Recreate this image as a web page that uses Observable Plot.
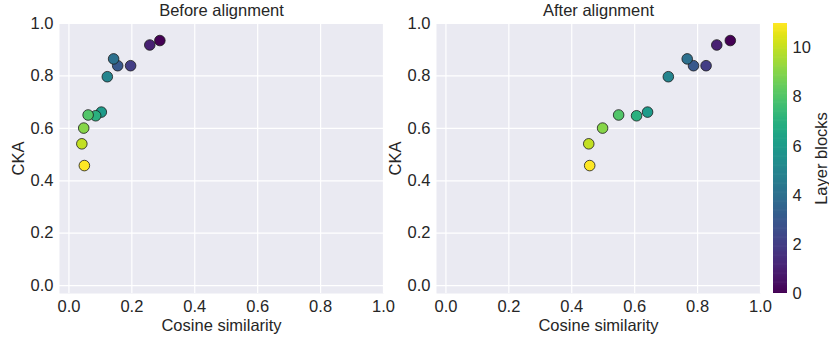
<!DOCTYPE html>
<html><head><meta charset="utf-8">
<script src="https://cdn.jsdelivr.net/npm/d3@7"></script>
<script src="https://cdn.jsdelivr.net/npm/@observablehq/plot@0.6"></script>
<style>
body{margin:0;background:#fff;}
#wrap{position:relative;width:829px;height:341px;overflow:hidden;background:#fff;}
#wrap svg{position:absolute;top:0;overflow:visible;max-width:none;}
</style></head><body><div id="wrap"></div>
<script>
// Data
const layers = [0, 1, 2, 3, 4, 5, 6, 7, 8, 9, 10, 11];
const cosBefore = [0.289, 0.257, 0.196, 0.155, 0.142, 0.122, 0.103, 0.085, 0.061, 0.047, 0.041, 0.049];
const cosAfter  = [0.904, 0.861, 0.827, 0.787, 0.767, 0.707, 0.641, 0.606, 0.549, 0.498, 0.454, 0.457];
const cka       = [0.935, 0.918, 0.839, 0.839, 0.865, 0.797, 0.662, 0.648, 0.651, 0.601, 0.541, 0.458];
const axisTicks = [0, 0.2, 0.4, 0.6, 0.8, 1.0];
const colorTicks = [0, 2, 4, 6, 8, 10];
const titles = ["Before alignment", "After alignment"];
const xLabel = "Cosine similarity";
const yLabel = "CKA";
const colorLabel = "Layer blocks";

const TXT = "#262626", BG = "#EAEAF2", FS = 16.5;
const FONT = "'Liberation Sans', Arial, sans-serif";
const fmt = d3.format(".1f");
const colorScale = {type: "linear", scheme: "viridis", domain: [0, 11]};
const wrap = document.getElementById("wrap");

function panel(title, xs, left) {
  const data = layers.map((l, i) => ({layer: l, x: xs[i], y: cka[i]}));
  const svg = Plot.plot({
    width: 400, height: 341,
    marginLeft: 59, marginRight: 17, marginTop: 23, marginBottom: 48,
    style: {background: "transparent", color: TXT, fontFamily: FONT, fontSize: FS + "px", overflow: "visible"},
    x: {domain: [-0.03, 1.0]},
    y: {domain: [-0.03, 1.0]},
    color: colorScale,
    marks: [
      Plot.frame({fill: BG, stroke: null}),
      Plot.gridX(axisTicks, {stroke: "white", strokeOpacity: 1, strokeWidth: 1.2}),
      Plot.gridY(axisTicks, {stroke: "white", strokeOpacity: 1, strokeWidth: 1.2}),
      Plot.axisX(axisTicks, {tickSize: 0, tickPadding: 7, tickFormat: fmt, label: null, fill: TXT, fontSize: FS}),
      Plot.axisY(axisTicks, {tickSize: 0, tickPadding: 6, tickFormat: fmt, label: null, fill: TXT, fontSize: FS}),
      Plot.dot(data, {x: "x", y: "y", fill: "layer", r: 5.3, stroke: "#1a1a1a", strokeWidth: 0.8}),
      Plot.text([title], {frameAnchor: "top", lineAnchor: "bottom", dy: -8, fill: TXT, fontSize: FS}),
      Plot.text([xLabel], {frameAnchor: "bottom", lineAnchor: "bottom", dy: 37, fill: TXT, fontSize: FS}),
      Plot.text([yLabel], {frameAnchor: "left", textAnchor: "middle", lineAnchor: "bottom", rotate: -90, dx: -36, fill: TXT, fontSize: FS})
    ]
  });
  svg.style.left = left + "px";
  wrap.appendChild(svg);
}

panel(titles[0], cosBefore, 0);
panel(titles[1], cosAfter, 377);

const N = 240;
const stops = d3.range(N).map(i => i * 11 / N);
const cbar = Plot.plot({
  width: 69, height: 341,
  marginLeft: 13, marginRight: 42, marginTop: 23, marginBottom: 48,
  style: {background: "transparent", color: TXT, fontFamily: FONT, fontSize: FS + "px", overflow: "visible"},
  x: {domain: [0, 1], axis: null},
  y: {domain: [0, 11], axis: null},
  color: colorScale,
  marks: [
    Plot.rect(stops, {x1: 0, x2: 1, y1: d => d, y2: d => Math.min(11, d + 11 / N * 1.6), fill: d => d + 5.5 / N, inset: 0}),
    Plot.axisY(colorTicks, {anchor: "right", tickSize: 0, tickPadding: 5, label: null, fill: TXT, fontSize: FS}),
    Plot.text([colorLabel], {frameAnchor: "right", textAnchor: "middle", lineAnchor: "bottom", rotate: -90, dx: 39, fill: TXT, fontSize: FS})
  ]
});
cbar.style.left = "760px";
wrap.appendChild(cbar);
</script></body></html>
